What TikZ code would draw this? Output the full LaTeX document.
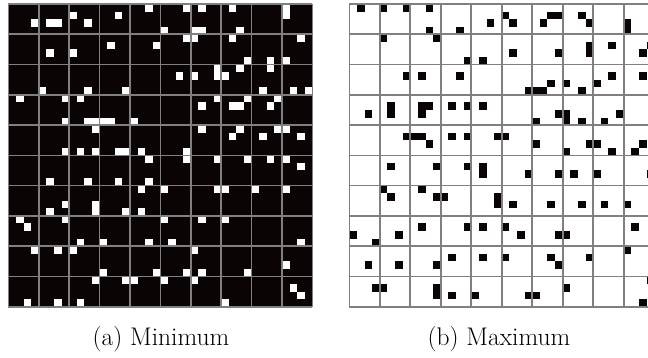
\documentclass[tikz,border=0pt]{standalone}
\usepackage{tikz}
\definecolor{ink}{RGB}{10,4,4}
\definecolor{gline}{RGB}{128,128,128}
\tikzset{
  gridline/.style={draw=gline, line width=1.6pt},
  caption/.style={font=\fontsize{25.5}{30}\selectfont, inner sep=0pt, anchor=center}
}
\begin{document}
\begin{tikzpicture}[x=1pt,y=-1pt]
\useasboundingbox (0,0) rectangle (648,358);
% ---------- left panel (a) ----------
\def\LX{8.3}\def\LY{4}\def\LW{30.4}\def\LH{30.27}
\fill[ink] (\LX,\LY) rectangle ({\LX+10*\LW},{\LY+10*\LH});
\foreach \c/\r in {18/0,3/2,5/2,6/2,8/1,10/2,14/1,13/5,19/5,5/6,8/6,4/11,10/11,15/11,1/12,7/12,9/12,7/15,10/15,11/15,12/15,13/15,16/15,11/16,7/19,9/19,11/19,14/19,15/19,17/19,18/20,
23/0,25/0,29/0,36/0,36/1,20/3,24/3,25/3,30/3,23/4,24/4,29/4,38/4,31/7,34/7,36/7,34/8,30/8,22/9,24/9,27/8,27/9,28/9,33/11,37/11,39/11,27/12,31/12,35/12,25/13,29/13,30/13,34/13,25/16,30/16,35/16,36/16,29/17,33/17,38/17,23/19,23/20,27/20,31/20,34/20,36/20,38/21,18/23,
5/23,10/23,14/23,17/24,7/26,5/27,11/26,11/27,15/27,17/27,1/28,2/29,7/28,9/31,12/31,18/31,3/32,6/32,8/32,12/35,19/35,11/36,15/36,16/36,2/39,6/39,9/39,
20/24,27/24,28/24,32/24,36/24,20/28,25/28,28/28,21/31,38/31,24/32,36/34,23/35,25/35,31/35,20/36,24/36,37/37,38/38,28/39}
  \fill[white] ({\LX+\c*\LW/4},{\LY+\r*\LH/4}) rectangle ++({\LW/4},{\LH/4});
\foreach \i in {0,...,10}{
  \draw[gridline] ({\LX+\i*\LW},\LY) -- ({\LX+\i*\LW},{\LY+10*\LH});
  \draw[gridline] (\LX,{\LY+\i*\LH}) -- ({\LX+10*\LW},{\LY+\i*\LH});
}
% ---------- right panel (b) ----------
\def\RX{349.3}\def\RW{30.49}
\foreach \c/\r in {1/0,4/0,7/0,10/0,10/3,14/3,18/2,4/4,11/4,15/7,17/7,7/9,9/9,14/9,2/14,5/13,5/14,9/13,9/14,10/13,13/13,15/13,17/13,7/17,8/17,9/17,10/18,13/17,15/17,19/17,
20/1,21/2,25/2,26/1,27/1,30/1,31/2,36/2,36/3,21/6,27/6,31/5,31/6,34/5,38/6,39/5,23/11,24/11,25/11,26/10,28/10,30/11,32/10,34/9,38/9,24/15,27/14,28/14,28/15,30/15,33/15,35/14,20/17,24/18,28/19,31/18,32/18,34/19,37/19,38/18,
5/21,11/21,15/21,17/21,17/22,4/24,5/25,9/24,11/25,12/25,19/25,19/26,0/30,3/31,6/30,9/29,15/29,17/29,2/34,6/34,11/34,13/33,17/33,3/37,4/37,11/37,11/38,13/38,16/38,
23/22,27/22,29/22,32/22,39/22,21/26,26/26,30/26,33/26,36/26,20/29,22/30,27/30,28/30,37/29,20/33,26/33,27/34,31/33,36/32,28/37,23/38,24/38,38/39,39/36}
  \fill[ink] ({\RX+\c*\RW/4},{\LY+\r*\LH/4}) rectangle ++({\RW/4},{\LH/4});
\foreach \i in {0,...,10}{
  \draw[gridline] ({\RX+\i*\RW},\LY) -- ({\RX+\i*\RW},{\LY+10*\LH});
  \draw[gridline] (\RX,{\LY+\i*\LH}) -- ({\RX+10*\RW},{\LY+\i*\LH});
}
% ---------- captions ----------
\node[caption] (capa) at (161,339) {(a) Minimum};
\node[caption] (capb) at (499,339) {(b) Maximum};
\end{tikzpicture}
\end{document}
